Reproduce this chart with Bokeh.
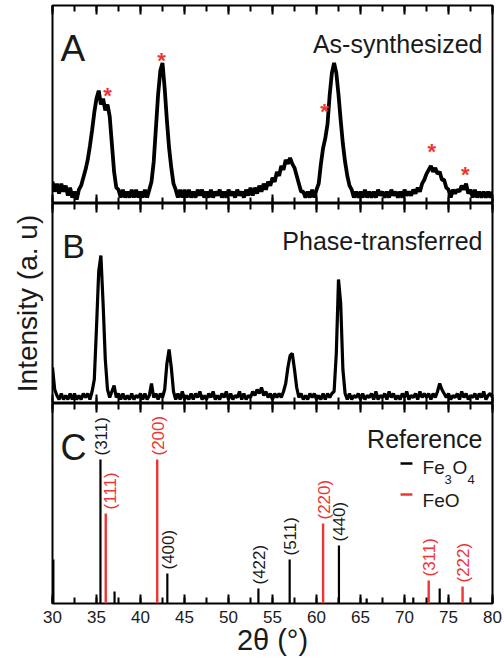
import numpy as np
from bokeh.plotting import figure
from bokeh.models import (Range1d, LinearAxis, SingleIntervalTicker, FixedTicker,
                          CustomJSTickFormatter)
from bokeh.layouts import column
from bokeh.embed import file_html
from bokeh.resources import INLINE
from bokeh.core.properties import value

FONT = "Liberation Sans"

# ---------------- data ----------------
# intensities as fraction of each panel's height, sampled every 0.25 deg from 30 to 80
as_synthesized = [
    0.11, 0.06, 0.10, 0.05,  0.10, 0.06, 0.09, 0.04,  0.08, 0.03, 0.06, 0.02,   # 30-32
    0.07, 0.09, 0.13, 0.17,  0.22, 0.29, 0.37, 0.46,  0.53, 0.57, 0.50, 0.53,   # 33-35
    0.47, 0.50, 0.44, 0.30,  0.16, 0.08, 0.07, 0.03,  0.07, 0.03, 0.06, 0.03,   # 36-38
    0.07, 0.03, 0.07, 0.03,  0.06, 0.03, 0.07, 0.03,  0.07, 0.11, 0.21, 0.38,   # 39-41
    0.55, 0.67, 0.71, 0.58,  0.42, 0.28, 0.18, 0.10,  0.07, 0.03, 0.07, 0.03,   # 42-44
    0.07, 0.03, 0.07, 0.03,  0.06, 0.03, 0.07, 0.04,  0.07, 0.03, 0.06, 0.03,   # 45-47
    0.07, 0.03, 0.06, 0.04,  0.07, 0.03, 0.06, 0.03,  0.07, 0.04, 0.06, 0.03,   # 48-50
    0.07, 0.04, 0.06, 0.03,  0.07, 0.04, 0.08, 0.04,  0.08, 0.05, 0.09, 0.06,   # 51-53
    0.10, 0.07, 0.11, 0.09,  0.13, 0.11, 0.16, 0.14,  0.19, 0.17, 0.22, 0.20,   # 54-56
    0.23, 0.20, 0.18, 0.14,  0.10, 0.06, 0.06, 0.03,  0.06, 0.03, 0.07, 0.03,   # 57-59
    0.07, 0.10, 0.20, 0.28,  0.33, 0.40, 0.55, 0.66,  0.71, 0.66, 0.55, 0.42,   # 60-62
    0.30, 0.21, 0.14, 0.09,  0.07, 0.03, 0.06, 0.03,  0.06, 0.03, 0.07, 0.03,   # 63-65
    0.06, 0.03, 0.06, 0.03,  0.07, 0.04, 0.06, 0.03,  0.06, 0.03, 0.07, 0.04,   # 66-68
    0.06, 0.03, 0.06, 0.03,  0.07, 0.04, 0.06, 0.04,  0.07, 0.05, 0.08, 0.06,   # 69-71
    0.10, 0.12, 0.15, 0.17,  0.19, 0.16, 0.18, 0.15,  0.16, 0.12, 0.12, 0.08,   # 72-74
    0.07, 0.03, 0.07, 0.05,  0.07, 0.06, 0.09, 0.07,  0.10, 0.05, 0.07, 0.03,   # 75-77
    0.07, 0.03, 0.06, 0.03,  0.06, 0.03, 0.06, 0.03,  0.06,                     # 78-80
]
phase_transferred = [
    0.18, 0.07, 0.04, 0.02,  0.05, 0.02, 0.04, 0.02,  0.05, 0.02, 0.05, 0.02,   # 30-32
    0.04, 0.02, 0.05, 0.03,  0.05, 0.02, 0.06, 0.12,  0.38, 0.66, 0.74, 0.50,   # 33-35
    0.22, 0.07, 0.03, 0.06,  0.09, 0.03, 0.05, 0.02,  0.05, 0.02, 0.04, 0.02,   # 36-38
    0.05, 0.02, 0.04, 0.03,  0.05, 0.02, 0.05, 0.02,  0.04, 0.10, 0.03, 0.05,   # 39-41
    0.02, 0.05, 0.03, 0.07,  0.20, 0.27, 0.18, 0.06,  0.02, 0.05, 0.02, 0.06,   # 42-44
    0.02, 0.04, 0.02, 0.05,  0.02, 0.05, 0.03, 0.06,  0.02, 0.04, 0.02, 0.05,   # 45-47
    0.03, 0.06, 0.02, 0.04,  0.02, 0.05, 0.03, 0.06,  0.02, 0.05, 0.02, 0.04,   # 48-50
    0.03, 0.06, 0.02, 0.05,  0.02, 0.04, 0.03, 0.06,  0.04, 0.07, 0.05, 0.08,   # 51-53
    0.04, 0.06, 0.03, 0.05,  0.02, 0.05, 0.03, 0.05,  0.03, 0.06, 0.10, 0.18,   # 54-56
    0.24, 0.25, 0.17, 0.08,  0.03, 0.05, 0.02, 0.04,  0.02, 0.05, 0.03, 0.05,   # 57-59
    0.02, 0.04, 0.02, 0.05,  0.02, 0.05, 0.03, 0.05,  0.06, 0.25, 0.62, 0.50,   # 60-62
    0.17, 0.05, 0.02, 0.05,  0.02, 0.04, 0.03, 0.05,  0.02, 0.05, 0.02, 0.04,   # 63-65
    0.03, 0.05, 0.02, 0.06,  0.02, 0.04, 0.03, 0.05,  0.02, 0.06, 0.03, 0.05,   # 66-68
    0.02, 0.04, 0.02, 0.05,  0.03, 0.06, 0.02, 0.04,  0.03, 0.05, 0.02, 0.06,   # 69-71
    0.03, 0.05, 0.03, 0.05,  0.02, 0.05, 0.03, 0.06,  0.10, 0.07, 0.05, 0.03,   # 72-74
    0.05, 0.02, 0.04, 0.03,  0.05, 0.02, 0.06, 0.03,  0.05, 0.02, 0.04, 0.03,   # 75-77
    0.05, 0.02, 0.05, 0.03,  0.06, 0.02, 0.04, 0.05,  0.03,                     # 78-80
]
two_theta = np.linspace(30.0, 80.0, len(as_synthesized))

# red asterisks on panel A (FeO reflections)
star_x = [36.25, 42.4, 60.9, 73.1, 76.9]
star_y = [0.58, 0.76, 0.50, 0.30, 0.18]

# reference stick patterns
fe3o4_pos = [30.1, 35.45, 37.05, 43.05, 53.4, 56.95, 62.55, 65.7, 71.0, 74.0]
fe3o4_int = [0.22, 0.72, 0.06, 0.15, 0.075, 0.22, 0.29, 0.025, 0.03, 0.075]
fe3o4_hkl = ["", "(311)", "", "(400)", "(422)", "(511)", "(440)", "", "", ""]
feo_pos = [36.05, 41.9, 60.75, 72.75, 76.6]
feo_int = [0.45, 0.72, 0.40, 0.115, 0.085]
feo_hkl = ["(111)", "(200)", "(220)", "(311)", "(222)"]

x_min, x_max = 30, 80
major_step = 5

RED = "#ee3535"
INK = "#1a1a1a"
BLANK = CustomJSTickFormatter(code="return ''")


def style_ticks(ax, labels):
    ax.ticker = SingleIntervalTicker(interval=major_step, num_minor_ticks=2)
    ax.axis_line_color = None
    ax.major_tick_in = 9
    ax.major_tick_out = 0
    ax.minor_tick_in = 6
    ax.minor_tick_out = 0
    ax.major_tick_line_width = 2
    ax.minor_tick_line_width = 2
    ax.major_tick_line_color = "black"
    ax.minor_tick_line_color = "black"
    if not labels:
        ax.formatter = BLANK
        ax.major_label_text_font_size = "1px"
        ax.major_label_standoff = 0


def make_panel(height, top, bottom, bottom_labels=False):
    p = figure(width=504, height=height, x_range=Range1d(x_min, x_max), y_range=Range1d(0, 1),
               output_backend="svg", toolbar_location=None,
               x_axis_location=None, y_axis_location=None,
               min_border_left=52, min_border_right=12, min_border_top=top, min_border_bottom=bottom)
    p.grid.visible = False
    p.outline_line_color = "black"
    p.outline_line_width = 2
    p.outline_line_alpha = 1
    p.background_fill_color = "white"
    p.border_fill_color = "white"
    top_axis = LinearAxis()
    bottom_axis = LinearAxis()
    style_ticks(top_axis, False)
    style_ticks(bottom_axis, bottom_labels)
    p.add_layout(top_axis, "above")
    p.add_layout(bottom_axis, "below")
    return p, bottom_axis


def txt(p, x, y, s, size, color=INK, align="left", baseline="alphabetic"):
    p.text(x=[x], y=[y], text=[s], text_font=value(FONT), text_font_size=size,
           text_color=color, text_align=align, text_baseline=baseline)


# ---------------- panel A ----------------
pa, _ = make_panel(203, 5, 0)
pa.line(two_theta, as_synthesized, line_color="black", line_width=3.8)
pa.text(x=star_x, y=star_y, text=["*"] * len(star_x), text_font=value(FONT), text_font_size="22px",
        text_font_style="bold", text_color=RED, text_align="center", text_baseline="middle", y_offset=7)
txt(pa, 30.9, 0.783, "A", "37px")
txt(pa, 78.86, 0.808, "As-synthesized", "25px", align="right")

# ---------------- panel B ----------------
pb, _ = make_panel(200, 0, 0)
pb.line(two_theta, phase_transferred, line_color="black", line_width=3.2)
ya = LinearAxis(ticker=FixedTicker(ticks=[]))
ya.axis_line_color = None
ya.major_tick_line_color = None
ya.minor_tick_line_color = None
ya.formatter = BLANK
ya.major_label_text_font_size = "1px"
ya.major_label_standoff = 0
ya.major_tick_out = 0
ya.axis_label = "Intensity (a. u)"
ya.axis_label_text_font = FONT
ya.axis_label_text_font_size = "28px"
ya.axis_label_text_font_style = "normal"
ya.axis_label_text_color = INK
ya.axis_label_standoff = 10
pb.add_layout(ya, "left")
txt(pb, 31.1, 0.79, "B", "34px")
txt(pb, 78.86, 0.815, "Phase-transferred", "25px", align="right")

# ---------------- panel C ----------------
pc, xa = make_panel(260, 0, 60, bottom_labels=True)
pc.segment(x0=fe3o4_pos, y0=[0] * len(fe3o4_pos), x1=fe3o4_pos, y1=fe3o4_int, line_color="black", line_width=2.2)
pc.segment(x0=feo_pos, y0=[0] * len(feo_pos), x1=feo_pos, y1=feo_int, line_color=RED, line_width=2.4)
pc.text(x=fe3o4_pos, y=fe3o4_int, text=fe3o4_hkl, angle=np.pi / 2, text_font=value(FONT),
        text_font_size="17px", text_color=INK, text_align="left", text_baseline="middle",
        x_offset=1, y_offset=-4)
feo_dx = [5, 1, 1, 1, 1]
pc.text(x=feo_pos, y=feo_int, text=feo_hkl, angle=np.pi / 2, text_font=value(FONT),
        text_font_size="17px", text_color=RED, text_align="left", text_baseline="middle",
        x_offset=feo_dx, y_offset=-4)
txt(pc, 30.9, 0.78, "C", "36px")
txt(pc, 78.86, 0.825, "Reference", "25px", align="right")
# legend
pc.segment(x0=[69.55], y0=[0.70], x1=[70.9], y1=[0.70], line_color="black", line_width=2.5)
pc.segment(x0=[69.55], y0=[0.545], x1=[70.9], y1=[0.545], line_color=RED, line_width=2.5)
txt(pc, 72.05, 0.68, "Fe", "19px")
txt(pc, 74.55, 0.62, "3", "13px")
txt(pc, 75.46, 0.68, "O", "19px")
txt(pc, 77.16, 0.62, "4", "13px")
txt(pc, 72.05, 0.515, "FeO", "19px")

xa.major_label_text_font_size = "17px"
xa.major_label_text_font = FONT
xa.major_label_text_color = INK
xa.major_label_standoff = 7
xa.axis_label = "2θ (°)"
xa.axis_label_text_font = FONT
xa.axis_label_text_font_size = "29px"
xa.axis_label_text_font_style = "normal"
xa.axis_label_text_color = INK
xa.axis_label_standoff = -2

layout = column(pa, pb, pc, spacing=0)
open("out.html", "w").write(file_html(layout, INLINE))
